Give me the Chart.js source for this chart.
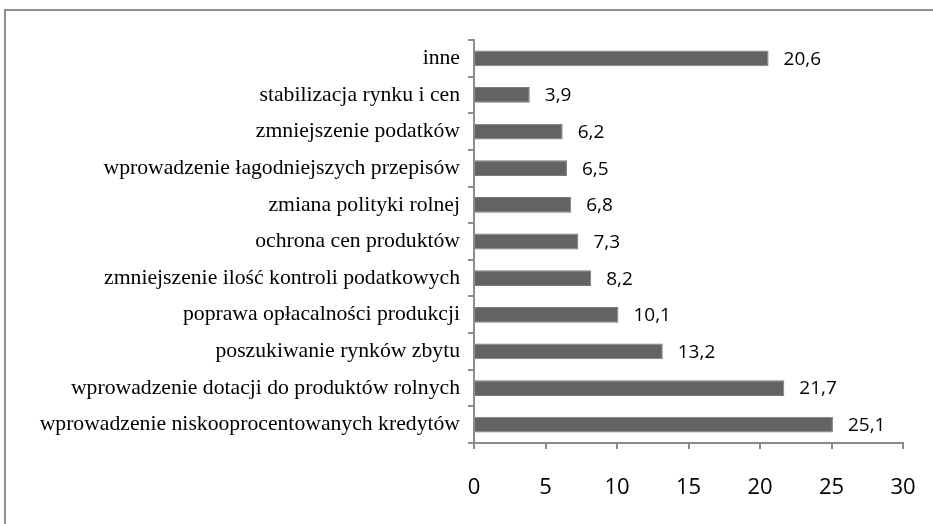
<!DOCTYPE html>
<html>
<head>
<meta charset="utf-8">
<script src="https://cdn.jsdelivr.net/npm/chart.js@4/dist/chart.umd.min.js"></script>
<style>
    html, body { margin: 0; padding: 0; background: #fff; overflow: hidden; }
    #frame {
        position: absolute; left: 4px; top: 9px;
        width: 960px; height: 560px;
        border-top: 2px solid #8f8f8f; border-left: 2px solid #8f8f8f;
    }
    #wrap { position: absolute; left: 0; top: 0; width: 933px; height: 524px; }
</style>
</head>
<body>
<div id="frame"></div>
<div id="wrap"><canvas id="chart"></canvas></div>
<script>
// kategorie od góry do dołu
const categories = [
    "inne",
    "stabilizacja rynku i cen",
    "zmniejszenie podatków",
    "wprowadzenie łagodniejszych przepisów",
    "zmiana polityki rolnej",
    "ochrona cen produktów",
    "zmniejszenie ilość kontroli podatkowych",
    "poprawa opłacalności produkcji",
    "poszukiwanie rynków zbytu",
    "wprowadzenie dotacji do produktów rolnych",
    "wprowadzenie niskooprocentowanych kredytów"
];
const values = [20.6, 3.9, 6.2, 6.5, 6.8, 7.3, 8.2, 10.1, 13.2, 21.7, 25.1];
const xTicks = [0, 5, 10, 15, 20, 25, 30];

const axisColor = "#8c8c8c";

// etykiety wartości obok słupków
const valueLabels = {
    id: "valueLabels",
    afterDatasetsDraw(chart) {
        const ctx = chart.ctx;
        const meta = chart.getDatasetMeta(0);
        ctx.save();
        ctx.font = "19px 'Open Sans'";
        ctx.fillStyle = "#000";
        ctx.textAlign = "left";
        ctx.textBaseline = "middle";
        meta.data.forEach((bar, i) => {
            ctx.fillText(values[i].toFixed(1).replace(".", ","), bar.x + 15, bar.y + 1);
        });
        ctx.restore();
    }
};

const ctx = document.getElementById("chart").getContext("2d");
new Chart(ctx, {
    type: "bar",
    data: {
        labels: categories,
        datasets: [{
            data: values,
            backgroundColor: "#636363",
            borderColor: "#7a7a7a",
            borderWidth: 1,
            barPercentage: 0.43,
            categoryPercentage: 1
        }]
    },
    options: {
        indexAxis: "y",
        responsive: true,
        maintainAspectRatio: false,
        animation: false,
        layout: { padding: { top: 40, right: 30, left: 0, bottom: 0 } },
        plugins: {
            legend: { display: false },
            tooltip: { enabled: false }
        },
        scales: {
            x: {
                min: 0,
                max: 30,
                afterBuildTicks: scale => { scale.ticks = xTicks.map(v => ({ value: v })); },
                afterFit: scale => {
                    scale.height = 81;
                    scale.paddingLeft = 0;
                    scale.paddingRight = 0;
                },
                border: { color: axisColor, width: 2 },
                grid: { drawOnChartArea: false, drawTicks: true, tickLength: 6, color: axisColor, lineWidth: 2 },
                ticks: { color: "#000", padding: 26, font: { family: "'Open Sans'", size: 22 } }
            },
            y: {
                afterFit: scale => { scale.width = 474; },
                border: { color: axisColor, width: 2 },
                grid: { offset: true, drawOnChartArea: false, drawTicks: true, tickLength: 6, color: axisColor, lineWidth: 2 },
                ticks: { color: "#000", padding: 8, font: { family: "'Liberation Serif'", size: 21.7 } }
            }
        }
    },
    plugins: [valueLabels]
});
</script>
</body>
</html>
